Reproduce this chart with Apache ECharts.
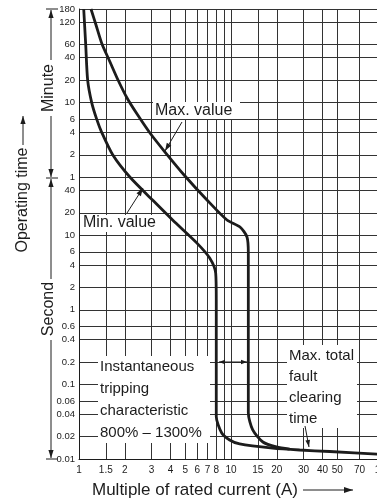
<!DOCTYPE html>
<html><head><meta charset="utf-8">
<script src="https://cdn.jsdelivr.net/npm/echarts@6/dist/echarts.min.js"></script>
<style>html,body{margin:0;padding:0;background:#fff;}#c{width:377px;height:500px;}</style>
</head><body><div id="c"></div>
<script>
// ---- data (x: multiple of rated current, y: operating time in seconds) ----
const xTickLabels = [1, 1.5, 2, 3, 4, 5, 6, 7, 8, 10, 15, 20, 30, 40, 50, 70, 100];
const xGridValues = [1.5, 2, 3, 4, 5, 6, 7, 8, 9, 10, 15, 20, 30, 40, 50, 70];
const yTickSeconds = [0.01, 0.02, 0.04, 0.06, 0.1, 0.2, 0.4, 0.6, 1, 2, 4, 6, 10, 20, 40,
                      60, 120, 240, 360, 600, 1200, 2400, 3600, 7200, 10800];
const yGridSeconds = [0.02, 0.04, 0.06, 0.1, 0.2, 0.4, 0.6, 1, 2, 4, 6, 10, 20, 40,
                      60, 120, 240, 360, 600, 1200, 2400, 3600, 7200, 10800];

const minCurrent = [1.074, 1.107, 1.14, 1.212, 1.307, 1.41, 1.666, 2.16, 3.05, 4.13, 5.95, 7.24, 7.93, 8.0, 8.0, 8.0, 8.0, 8.69, 9.8, 11.4, 18.8, 28.3, 44.6, 100];
const minTime    = [10800, 3600, 1200, 600, 360, 240, 120, 60.3, 29.6, 16, 7.9, 4.95, 3.1, 1.35, 0.5, 0.1, 0.037, 0.0223, 0.018, 0.0159, 0.0140, 0.0132, 0.0126, 0.0115];

const maxCurrent = [1.199, 1.294, 1.417, 1.60, 1.806, 2.07, 2.41, 2.93, 3.68, 4.98, 6.95, 9.41, 11.46, 12.74, 13.0, 13.0, 13.0, 13.0, 13.9, 16.2, 19.9, 24.3];
const maxTime    = [10800, 6592, 3664, 2104, 1206, 692, 422, 235, 130.6, 62.3, 29.7, 16.0, 12.9, 9.48, 5.78, 1.35, 0.2, 0.0414, 0.0245, 0.0169, 0.0145, 0.0136];

// ---- rendering ----
const INK = '#1c1c1c';
const FONT = '"Liberation Sans", Arial, Helvetica, sans-serif';
const chart = echarts.init(document.getElementById('c'), null, {renderer: 'canvas'});

function ln(x1, y1, x2, y2, w) {
  return {type: 'line', z: 60, shape: {x1, y1, x2, y2}, style: {stroke: INK, lineWidth: w || 1}};
}
function head(x, y, ang, len, half) {
  const bx = x - Math.cos(ang) * len, by = y - Math.sin(ang) * len;
  const px = -Math.sin(ang) * half, py = Math.cos(ang) * half;
  return {type: 'polygon', z: 61, shape: {points: [[x, y], [bx + px, by + py], [bx - px, by - py]]}, style: {fill: INK}};
}
function arrow(x1, y1, x2, y2, len, half) {
  const a = Math.atan2(y2 - y1, x2 - x1);
  return [ln(x1, y1, x2, y2, 1), head(x2, y2, a, len || 8, half || 2.6)];
}
function txt(s, x, y, size, rot) {
  return {type: 'text', z: 62, x, y, rotation: rot || 0,
    style: {text: s, font: size + 'px ' + FONT, fill: INK, align: rot ? 'center' : 'left', verticalAlign: 'middle',
            textAlign: rot ? 'center' : 'left', textVerticalAlign: 'middle'}};
}
function box(x, y, w, h) {
  return {type: 'rect', z: 55, shape: {x, y, width: w, height: h}, style: {fill: '#fff'}};
}

const g = [];
// annotation boxes
g.push(box(153, 102, 87, 17), txt('Max. value', 155, 110.5, 16));
g.push(box(81, 215, 72, 17), txt('Min. value', 83, 223, 16));
g.push(box(98, 356, 112, 87));
g.push(txt('Instantaneous', 100, 367, 15), txt('tripping', 100, 389, 15), txt('characteristic', 100, 411, 15), txt('800% \u2013 1300%', 100, 433, 15));
g.push(box(287, 345, 70, 83));
g.push(txt('Max. total', 289, 356, 15), txt('fault', 289, 377, 15), txt('clearing', 289, 398, 15), txt('time', 289, 419, 15));
// pointer arrows
g.push(...arrow(182, 122, 165, 151));
g.push(...arrow(127, 213, 143, 188));
g.push(...arrow(305, 426, 309, 447, 7, 2.3));
g.push(...arrow(232, 362, 219, 362, 6, 2.2), ...arrow(232, 362, 247, 362, 6, 2.2));
// left brackets
g.push(ln(46, 9, 58, 9), ln(46, 178, 58, 178), ln(46, 459, 58, 459));
g.push(...arrow(51, 60, 51, 10), ...arrow(51, 116, 51, 177));
g.push(txt('Minute', 49, 88, 16, Math.PI / 2));
g.push(...arrow(51, 279, 51, 179), ...arrow(51, 340, 51, 458));
g.push(txt('Second', 49, 309, 16, Math.PI / 2));
g.push(txt('Operating time', 23, 200, 16, Math.PI / 2));
g.push(...arrow(23, 145, 23, 116));
// x title
g.push(txt('Multiple of rated current (A)', 92, 490, 17));
g.push(...arrow(303, 490, 353, 490, 9, 3));

chart.setOption({
  animation: false,
  backgroundColor: '#fff',
  grid: {left: 79, right: -6, top: 9, bottom: 41, containLabel: false, outerBoundsMode: 'none'},
  xAxis: {
    type: 'log', logBase: 10, min: 1, max: 100,
    axisLine: {show: true, lineStyle: {color: INK, width: 1}},
    axisTick: {show: false, customValues: xGridValues},
    axisLabel: {customValues: xTickLabels, fontSize: 10, color: INK, margin: 6, fontFamily: FONT,
                formatter: v => String(+v.toPrecision(6))},
    splitLine: {show: true, lineStyle: {color: '#333', width: 1}},
    minorSplitLine: {show: false}
  },
  yAxis: {
    type: 'log', logBase: 10, min: 0.01, max: 10800,
    axisLine: {show: true, lineStyle: {color: INK, width: 1}},
    axisTick: {show: false, customValues: yGridSeconds},
    axisLabel: {customValues: yTickSeconds, fontSize: 9.5, color: INK, margin: 4, fontFamily: FONT,
                formatter: v => v >= 59.99 ? String(Math.round(v / 60)) : String(+v.toPrecision(6))},
    splitLine: {show: true, lineStyle: {color: '#333', width: 1}}
  },
  series: [
    {name: 'Min. value', type: 'line', data: minCurrent.map((x, i) => [x, minTime[i]]),
     symbol: 'none', smooth: 0.25, lineStyle: {color: INK, width: 2.8}, z: 5},
    {name: 'Max. value', type: 'line', data: maxCurrent.map((x, i) => [x, maxTime[i]]),
     symbol: 'none', smooth: 0.25, lineStyle: {color: INK, width: 2.8}, z: 5}
  ],
  graphic: {elements: g}
});
</script></body></html>
